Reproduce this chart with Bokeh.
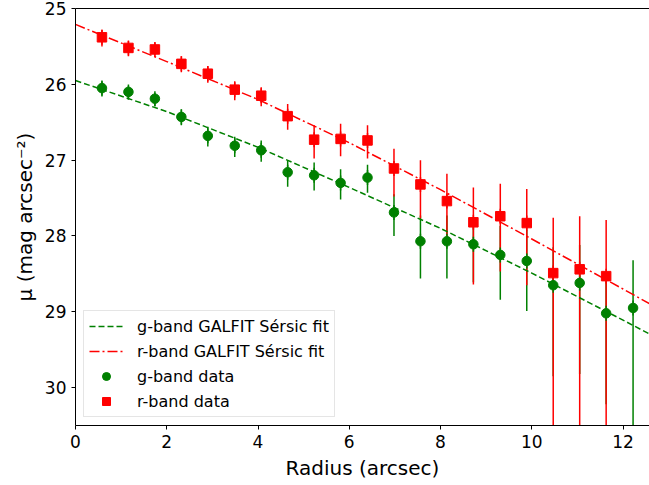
import math
from bokeh.plotting import figure
from bokeh.models import ColumnDataSource, Range1d, FixedTicker, LinearAxis, Legend, LegendItem
from bokeh.embed import file_html
from bokeh.resources import INLINE

# ---- data ----
radius = [0.58, 1.16, 1.74, 2.32, 2.90, 3.49, 4.07, 4.65, 5.23, 5.81, 6.40,
          6.98, 7.56, 8.14, 8.72, 9.31, 9.89, 10.47, 11.05, 11.63, 12.22]

g_mu = [26.05, 26.10, 26.19, 26.43, 26.68, 26.81, 26.87, 27.16, 27.20, 27.30, 27.23,
        27.69, 28.07, 28.07, 28.11, 28.25, 28.33, 28.65, 28.62, 29.02, 28.95]
g_err_bright = [0.09, 0.08, 0.08, 0.10, 0.12, 0.12, 0.13, 0.16, 0.17, 0.18, 0.17,
                0.24, 0.34, 0.34, 0.35, 0.38, 0.41, 0.50, 0.50, 0.50, 0.63]
g_err_faint = [0.11, 0.10, 0.10, 0.11, 0.14, 0.15, 0.15, 0.19, 0.20, 0.22, 0.20,
               0.31, 0.49, 0.49, 0.50, 0.59, 0.66, 1.20, 1.20, 1.20, 1.80]

r_mu = [25.38, 25.52, 25.54, 25.73, 25.86, 26.07, 26.15, 26.42, 26.73, 26.72,
        26.74, 27.11, 27.32, 27.54, 27.82, 27.74, 27.83, 28.49, 28.44, 28.53]
r_err_bright = [0.10, 0.09, 0.09, 0.10, 0.10, 0.11, 0.11, 0.16, 0.19, 0.20,
                0.20, 0.26, 0.32, 0.36, 0.46, 0.43, 0.45, 0.73, 0.70, 0.74]
r_err_faint = [0.12, 0.11, 0.08, 0.11, 0.12, 0.14, 0.14, 0.18, 0.25, 0.23,
               0.24, 0.37, 0.45, 0.48, 0.82, 0.73, 0.82, 2.50, 2.50, 2.50]

fit_radius = [0, 2, 4, 6, 8, 10, 12, 12.6]
g_fit = [25.95, 26.36, 26.83, 27.36, 27.90, 28.49, 29.11, 29.30]
r_fit = [25.21, 25.70, 26.20, 26.77, 27.39, 28.04, 28.70, 28.90]

x_ticks = [0, 2, 4, 6, 8, 10, 12]
y_ticks = [25, 26, 27, 28, 29, 30]

legend_labels = ["g-band GALFIT Sérsic fit", "r-band GALFIT Sérsic fit",
                 "g-band data", "r-band data"]

# ---- sources ----
g_src = ColumnDataSource(dict(
    x=radius, y=g_mu,
    lo=[m - e for m, e in zip(g_mu, g_err_bright)],
    hi=[m + e for m, e in zip(g_mu, g_err_faint)]))
r_src = ColumnDataSource(dict(
    x=radius[:len(r_mu)], y=r_mu,
    lo=[m - e for m, e in zip(r_mu, r_err_bright)],
    hi=[m + e for m, e in zip(r_mu, r_err_faint)]))

GREEN = "#008000"
RED = "#ff0000"
FONT = "DejaVu Sans"

p = figure(width=649, height=485, output_backend="svg", toolbar_location=None,
           x_range=Range1d(0, 12.58), y_range=Range1d(30.5, 25),
           min_border_left=75, min_border_right=0, min_border_top=8,
           min_border_bottom=60)
p.xgrid.visible = False
p.ygrid.visible = False
p.outline_line_color = None
p.background_fill_color = "white"
p.border_fill_color = "white"

# error bars
p.segment(x0="x", y0="lo", x1="x", y1="hi", source=g_src, line_color=GREEN, line_width=1.5)
p.segment(x0="x", y0="lo", x1="x", y1="hi", source=r_src, line_color=RED, line_width=1.5)

# short vertical caps at each point (also gives the legend its error-bar look)
gd = p.scatter("x", "y", source=g_src, marker="dash", angle=math.pi / 2, size=15,
               line_color=GREEN, line_width=1.5)
rd = p.scatter("x", "y", source=r_src, marker="dash", angle=math.pi / 2, size=15,
               line_color=RED, line_width=1.5)

# fit lines
gl = p.line(fit_radius, g_fit, line_color=GREEN, line_dash="6 3", line_width=1.5)
rl = p.line(fit_radius, r_fit, line_color=RED, line_dash="10 3 2 3", line_width=1.5)

# data markers
gs = p.scatter("x", "y", source=g_src, marker="circle", size=9.5,
               fill_color=GREEN, line_color=GREEN)
rs = p.scatter("x", "y", source=r_src, marker="square", size=9.5,
               fill_color=RED, line_color=RED)

# axes
for ax in (p.xaxis[0], p.yaxis[0]):
    ax.major_tick_in = 0
    ax.major_tick_out = 4
    ax.minor_tick_line_color = None
    ax.axis_line_color = "black"
    ax.major_tick_line_color = "black"
    ax.major_label_text_color = "black"
    ax.major_label_text_font = FONT
    ax.major_label_text_font_size = "17px"
    ax.axis_label_text_font = FONT
    ax.axis_label_text_font_size = "20px"
    ax.axis_label_text_font_style = "normal"
    ax.axis_label_text_color = "black"
    ax.major_label_standoff = 5
    ax.axis_label_standoff = 5

p.xaxis[0].ticker = FixedTicker(ticks=x_ticks)
p.yaxis[0].ticker = FixedTicker(ticks=y_ticks)
p.xaxis[0].axis_label = "Radius (arcsec)"
p.yaxis[0].axis_label = "μ (mag arcsec⁻²)"

# top spine
top = LinearAxis(ticker=FixedTicker(ticks=[]), major_tick_line_color=None,
                 minor_tick_line_color=None, axis_line_color="black",
                 major_label_standoff=0, major_tick_out=0, major_tick_in=0)
p.add_layout(top, "above")

legend = Legend(items=[
    LegendItem(label=legend_labels[0], renderers=[gl]),
    LegendItem(label=legend_labels[1], renderers=[rl]),
    LegendItem(label=legend_labels[2], renderers=[gd, gs]),
    LegendItem(label=legend_labels[3], renderers=[rd, rs]),
], location="bottom_left")
legend.label_text_font = FONT
legend.label_text_font_size = "16px"
legend.label_text_color = "black"
legend.glyph_width = 34
legend.glyph_height = 20
legend.label_height = 20
legend.label_standoff = 14
legend.spacing = 5
legend.padding = 5
legend.margin = 8
legend.border_line_color = "#cccccc"
legend.border_line_width = 1
legend.background_fill_alpha = 0.8
p.add_layout(legend)

open("out.html", "w").write(file_html(p, INLINE))
